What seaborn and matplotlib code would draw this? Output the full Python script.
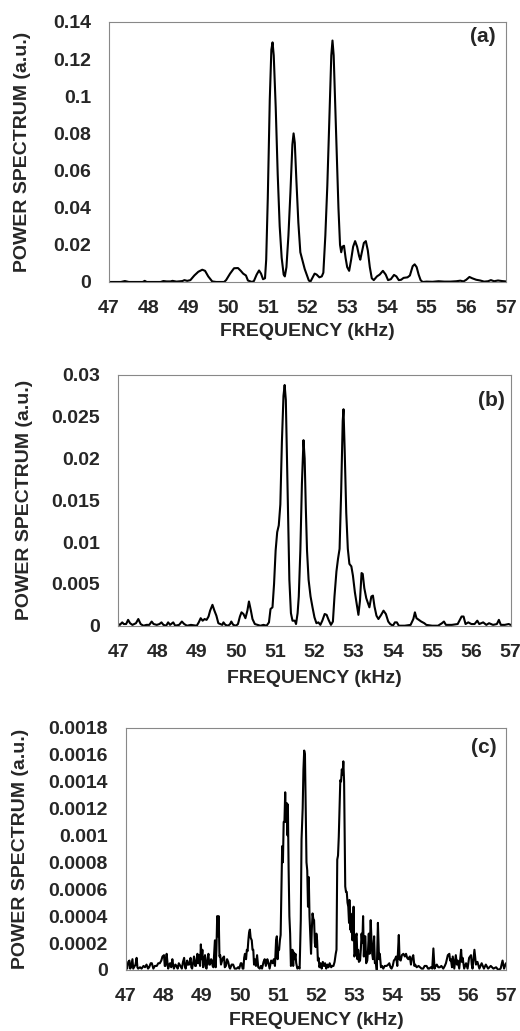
import pandas as pd
import matplotlib
matplotlib.use("Agg")
import matplotlib.pyplot as plt
import matplotlib.transforms as mtransforms
import seaborn as sns
from matplotlib.ticker import FuncFormatter

# Panel (a) spectrum
freq_a = [47.0, 47.3, 47.4, 47.5, 47.85, 47.9, 47.95, 48.3, 48.37, 48.45, 48.55, 48.6, 48.7, 48.85, 48.9,
          48.97, 49.05, 49.15, 49.25, 49.35, 49.42, 49.5, 49.6, 49.7, 49.9, 49.95, 50.05, 50.15, 50.25,
          50.32, 50.38, 50.45, 50.5, 50.6, 50.65, 50.72, 50.78, 50.83, 50.88, 50.93, 50.96, 51.0, 51.05,
          51.09, 51.12, 51.15, 51.2, 51.25, 51.3, 51.35, 51.4, 51.43, 51.47, 51.52, 51.57, 51.62, 51.65,
          51.68, 51.72, 51.77, 51.82, 51.88, 51.93, 51.98, 52.03, 52.07, 52.12, 52.18, 52.23, 52.3, 52.36,
          52.4, 52.45, 52.5, 52.55, 52.6, 52.63, 52.66, 52.7, 52.74, 52.78, 52.82, 52.85, 52.88, 52.92,
          52.96, 53.0, 53.05, 53.1, 53.15, 53.2, 53.25, 53.3, 53.33, 53.37, 53.42, 53.47, 53.52, 53.57,
          53.62, 53.67, 53.75, 53.82, 53.9, 53.97, 54.03, 54.1, 54.18, 54.24, 54.3, 54.36, 54.42, 54.52,
          54.58, 54.65, 54.7, 54.75, 54.8, 54.85, 54.9, 55.0, 55.15, 55.3, 55.45, 55.6, 55.75, 55.85,
          55.93, 56.0, 56.08, 56.15, 56.25, 56.35, 56.45, 56.55, 56.62, 56.7, 56.8, 56.9, 57.0]
power_a = [0, 0, 0.0005, 0, 0, 0.0006, 0, 0, 0.0005, 0.0003, 0.0003, 0.0006, 0.0002, 0.0005, 0.001,
           0.0006, 0.001, 0.0035, 0.0055, 0.0066, 0.006, 0.003, 0.0003, 0, 0, 0.001, 0.0045, 0.0074, 0.0075,
           0.006, 0.0045, 0.0035, 0.0008, 0, 0.0005, 0.004, 0.0062, 0.0045, 0.0015, 0.002, 0.012, 0.045, 0.098,
           0.125, 0.129, 0.122, 0.094, 0.058, 0.03, 0.013, 0.004, 0.003, 0.008, 0.025, 0.048, 0.074, 0.080,
           0.075, 0.055, 0.032, 0.016, 0.011, 0.007, 0.004, 0.001, 0, 0.002, 0.0045, 0.004, 0.0025, 0.003,
           0.005, 0.025, 0.052, 0.088, 0.122, 0.130, 0.122, 0.095, 0.068, 0.04, 0.02, 0.016, 0.019, 0.0195,
           0.013, 0.008, 0.006, 0.012, 0.019, 0.022, 0.019, 0.014, 0.012, 0.016, 0.021, 0.022, 0.017, 0.008,
           0.002, 0.001, 0.003, 0.004, 0.006, 0.004, 0.001, 0.0015, 0.0038, 0.003, 0.001, 0.0012, 0.0022, 0.0025,
           0.0035, 0.0085, 0.0095, 0.008, 0.004, 0.001, 0, 0.0002, 0.0001, 0.0004, 0.0002, 0.0002, 0.0004, 0.0007,
           0.0003, 0.0012, 0.0027, 0.002, 0.0012, 0.0008, 0.0002, 0.0004, 0.001, 0.0004, 0.0008, 0.0005, 0.0003]

# Panel (b)
freq_b = [47.0, 47.04, 47.1, 47.14, 47.2, 47.25, 47.3, 47.36, 47.45, 47.51, 47.57, 47.64, 47.72, 47.79,
          47.85, 47.9, 47.98, 48.05, 48.1, 48.15, 48.22, 48.27, 48.32, 48.4, 48.45, 48.55, 48.62, 48.68,
          48.75, 48.85, 49.0, 49.05, 49.1, 49.15, 49.2, 49.25, 49.3, 49.34, 49.4, 49.45, 49.5, 49.55, 49.6,
          49.65, 49.68, 49.73, 49.8, 49.85, 49.88, 49.93, 50.0, 50.05, 50.1, 50.14, 50.19, 50.24, 50.29,
          50.33, 50.38, 50.42, 50.48, 50.55, 50.62, 50.7, 50.78, 50.84, 50.88, 50.93, 50.97, 51.01, 51.05,
          51.09, 51.13, 51.17, 51.21, 51.24, 51.27, 51.3, 51.33, 51.36, 51.4, 51.44, 51.5, 51.53, 51.57,
          51.6, 51.64, 51.68, 51.72, 51.75, 51.78, 51.81, 51.85, 51.9, 51.95, 52.0, 52.05, 52.1, 52.15,
          52.2, 52.26, 52.31, 52.36, 52.42, 52.47, 52.51, 52.56, 52.6, 52.64, 52.68, 52.72, 52.74, 52.77,
          52.81, 52.85, 52.89, 52.94, 52.98, 53.03, 53.08, 53.12, 53.16, 53.2, 53.23, 53.27, 53.32, 53.37,
          53.4, 53.45, 53.49, 53.53, 53.58, 53.63, 53.7, 53.76, 53.82, 53.88, 53.93, 54.0, 54.05, 54.1,
          54.15, 54.3, 54.45, 54.52, 54.56, 54.6, 54.66, 54.72, 54.8, 54.85, 55.0, 55.15, 55.25, 55.3,
          55.35, 55.5, 55.65, 55.75, 55.8, 55.85, 55.92, 56.0, 56.08, 56.15, 56.2, 56.3, 56.38, 56.45,
          56.55, 56.65, 56.7, 56.75, 56.85, 56.95, 57.0]
power_b = [0.0002, 0.0001, 0.0004, 0.0002, 0.0002, 0.0007, 0.0003, 0.0001, 0.0003, 0.0008, 0.0002, 0.0,
           0.0001, 0.0001, 0.0005, 0.0002, 0.0001, 0.0002, 0.0004, 0.0001, 0.0, 0.0004, 0.0001, 0.0004, 0.0,
           0.0001, 0.0005, 0.0002, 0.0, 0.0001, 0.0, 0.0004, 0.0009, 0.0006, 0.0008, 0.0007, 0.0011, 0.0018,
           0.0025, 0.0018, 0.0012, 0.0003, 0.0002, 0.0001, 0.0004, 0.0001, 0.0, 0.0002, 0.0005, 0.0001, 0.0,
           0.0002, 0.0011, 0.0016, 0.0014, 0.0009, 0.0018, 0.0029, 0.0018, 0.0008, 0.0002, 0.0001, 0.0,
           0.0001, 0.0, 0.0004, 0.002, 0.0022, 0.005, 0.009, 0.0112, 0.012, 0.0145, 0.022, 0.0275, 0.0288,
           0.027, 0.02, 0.0125, 0.0055, 0.0015, 0.0006, 0.0006, 0.0002, 0.0015, 0.0035, 0.009, 0.017, 0.0222,
           0.020, 0.014, 0.009, 0.0055, 0.0035, 0.0022, 0.001, 0.0003, 0.0004, 0.0001, 0.0006, 0.0014, 0.0013,
           0.0007, 0.0001, 0.0005, 0.0035, 0.0065, 0.008, 0.0092, 0.016, 0.0245, 0.0259, 0.021, 0.0135,
           0.0092, 0.0074, 0.0071, 0.006, 0.004, 0.0025, 0.0013, 0.003, 0.0063, 0.0062, 0.0045, 0.0033,
           0.0026, 0.0022, 0.0035, 0.0036, 0.0023, 0.0012, 0.0008, 0.0013, 0.0018, 0.0014, 0.0005, 0.0002,
           0.0, 0.0004, 0.0004, 0.0, 0.0, 0.0001, 0.0008, 0.0016, 0.0009, 0.0007, 0.0005, 0.0003, 0.0001,
           0.0, 0.0, 0.0003, 0.0005, 0.0001, 0.0001, 0.0002, 0.0011, 0.0011, 0.0002, 0.0004, 0.0002, 0.0002,
           0.0006, 0.0002, 0.0004, 0.0001, 0.0003, 0.0001, 0.0002, 0.0007, 0.0001, 0.0001, 0.0002, 0.0001]

# Panel (c), noisy spectrum
freq_c = [47.0, 47.03, 47.06, 47.09, 47.11, 47.13, 47.17, 47.19, 47.21, 47.25, 47.28, 47.3, 47.32, 47.37,
          47.41, 47.46, 47.5, 47.54, 47.58, 47.61, 47.65, 47.68, 47.72, 47.76, 47.81, 47.85, 47.89, 47.93,
          47.96, 48.0, 48.02, 48.04, 48.07, 48.09, 48.11, 48.14, 48.16, 48.19, 48.22, 48.24, 48.26, 48.3,
          48.33, 48.36, 48.39, 48.43, 48.47, 48.5, 48.53, 48.55, 48.57, 48.61, 48.63, 48.66, 48.7, 48.72,
          48.74, 48.77, 48.79, 48.82, 48.84, 48.86, 48.88, 48.9, 48.92, 48.95, 48.97, 48.99, 49.01, 49.03,
          49.06, 49.08, 49.1, 49.12, 49.15, 49.17, 49.19, 49.21, 49.24, 49.26, 49.28, 49.3, 49.32, 49.34,
          49.36, 49.38, 49.4, 49.42, 49.44, 49.46, 49.48, 49.5, 49.53, 49.55, 49.58, 49.6, 49.63, 49.66,
          49.69, 49.72, 49.74, 49.78, 49.82, 49.86, 49.91, 49.95, 49.98, 50.02, 50.04, 50.07, 50.09, 50.11,
          50.13, 50.16, 50.18, 50.2, 50.22, 50.24, 50.26, 50.28, 50.31, 50.33, 50.35, 50.37, 50.39, 50.42,
          50.45, 50.48, 50.52, 50.55, 50.58, 50.62, 50.65, 50.68, 50.72, 50.75, 50.78, 50.82, 50.86, 50.89,
          50.92, 50.95, 50.97, 50.99, 51.01, 51.03, 51.05, 51.07, 51.09, 51.11, 51.13, 51.15, 51.17, 51.19,
          51.21, 51.23, 51.25, 51.26, 51.28, 51.3, 51.32, 51.34, 51.36, 51.38, 51.4, 51.42, 51.44, 51.46,
          51.48, 51.51, 51.54, 51.57, 51.6, 51.62, 51.65, 51.67, 51.69, 51.71, 51.73, 51.75, 51.77, 51.79,
          51.81, 51.83, 51.85, 51.87, 51.89, 51.91, 51.93, 51.95, 51.97, 51.99, 52.01, 52.03, 52.05, 52.07,
          52.09, 52.12, 52.15, 52.18, 52.21, 52.24, 52.27, 52.3, 52.33, 52.36, 52.4, 52.43, 52.46, 52.49,
          52.52, 52.54, 52.56, 52.58, 52.6, 52.62, 52.64, 52.66, 52.68, 52.7, 52.72, 52.74, 52.76, 52.77,
          52.79, 52.81, 52.83, 52.85, 52.87, 52.88, 52.9, 52.91, 52.93, 52.94, 52.96, 52.97, 52.99, 53.01,
          53.03, 53.05, 53.07, 53.09, 53.11, 53.13, 53.16, 53.18, 53.2, 53.22, 53.24, 53.26, 53.28, 53.3,
          53.32, 53.35, 53.37, 53.39, 53.41, 53.44, 53.46, 53.48, 53.5, 53.53, 53.55, 53.58, 53.6, 53.63,
          53.66, 53.68, 53.71, 53.74, 53.77, 53.81, 53.86, 53.9, 53.93, 53.96, 53.99, 54.02, 54.05, 54.08,
          54.11, 54.14, 54.18, 54.2, 54.23, 54.26, 54.3, 54.34, 54.37, 54.4, 54.43, 54.47, 54.5, 54.52,
          54.56, 54.59, 54.61, 54.65, 54.7, 54.74, 54.78, 54.82, 54.86, 54.91, 54.95, 54.98, 55.02, 55.06,
          55.09, 55.12, 55.15, 55.18, 55.22, 55.26, 55.3, 55.35, 55.39, 55.42, 55.47, 55.51, 55.53, 55.55,
          55.58, 55.6, 55.64, 55.68, 55.71, 55.73, 55.77, 55.82, 55.84, 55.86, 55.9, 55.95, 55.99, 56.03,
          56.08, 56.1, 56.12, 56.17, 56.21, 56.25, 56.3, 56.36, 56.42, 56.47, 56.53, 56.6, 56.67, 56.74,
          56.8, 56.86, 56.91, 56.95, 57.0]
power_c = [0.00005, 0.00001, 0.00006, 0.00007, 0.00001, 0.00002, 0.00008, 0.00001, 0.00002, 0.00004,
           0.00009, 0.00002, 0.00001, 0.00002, 0.00001, 0.00003, 0.00002, 0.00004, 0.00001, 0.00002,
           0.00005, 0.00005, 0.00001, 0.00003, 0.00003, 0.00005, 0.00005, 0.00007, 0.0001, 0.00011,
           0.00003, 0.00003, 0.00012, 0.00006, 0.00001, 0.00004, 0.00005, 0.00002, 0.00008, 0.00004,
           0.00001, 0.00004, 0.00003, 0.00001, 0.00005, 0.00003, 0.00001, 0.00006, 0.00009, 0.00003,
           0.00001, 0.00007, 0.00004, 0.00004, 0.00009, 0.00002, 0.00001, 0.00006, 0.0001, 0.00003,
           0.00003, 0.00008, 0.00012, 0.00005, 0.00011, 0.00003, 0.00019, 0.00008, 0.00015, 0.00002,
           0.00008, 0.00011, 0.00002, 0.00001, 0.00009, 0.00012, 0.00004, 0.00004, 0.00008, 0.00007,
           0.00003, 0.00002, 0.00012, 0.00022, 0.00002, 0.00015, 0.0004, 0.00025, 0.0004, 0.0001,
           0.00011, 0.00004, 0.00007, 0.00009, 0.0001, 0.00002, 0.00003, 0.00008, 0.00006, 0.00002,
           0.00001, 0.00004, 0.00004, 0.00001, 0.00001, 0.00002, 0.00001, 0.00005, 0.00005, 0.00001,
           0.00001, 0.00009, 0.00012, 0.00008, 0.00015, 0.00014, 0.00022, 0.00028, 0.0003, 0.00024,
           0.00022, 0.00015, 0.00015, 0.00004, 0.00008, 0.00003, 0.00011, 0.00002, 0.00001, 0.00003,
           0.00001, 0.00006, 0.00008, 0.00003, 0.00008, 0.00005, 0.00001, 0.00007, 0.00005, 0.00008,
           0.00003, 0.00022, 0.00025, 0.00008, 0.00016, 0.00015, 0.00022, 0.00026, 0.0006, 0.00092,
           0.0008, 0.0011, 0.0011, 0.00132, 0.0011, 0.00124, 0.001, 0.00123, 0.00075, 0.0004, 0.00027,
           0.00003, 0.00006, 0.00015, 0.00003, 0.00013, 0.00008, 0.00012, 0.00005, 0.00001, 0.00002,
           0.00001, 0.00037, 0.00097, 0.0012, 0.00149, 0.00163, 0.0016, 0.0012, 0.0008, 0.00074, 0.00047,
           0.00069, 0.0004, 0.00025, 0.00012, 0.0003, 0.00042, 0.00038, 0.00037, 0.0002, 0.00017, 0.00027,
           0.00022, 0.00007, 0.00009, 0.00002, 0.00005, 0.00001, 0.00006, 0.00003, 0.00005, 0.00001,
           0.00004, 0.00002, 0.00005, 0.00002, 0.00003, 0.00003, 0.00006, 0.00012, 0.00015, 0.00082,
           0.00085, 0.00099, 0.0012, 0.00141, 0.0014, 0.00149, 0.00145, 0.00155, 0.0014, 0.0009, 0.00062,
           0.00058, 0.00058, 0.0005, 0.00047, 0.00035, 0.00052, 0.0003, 0.00042, 0.00028, 0.00037, 0.00022,
           0.00025, 0.00047, 0.0001, 0.00012, 0.00025, 0.00027, 0.00008, 0.00015, 0.00006, 0.00007, 0.00015,
           0.00027, 0.0002, 0.0004, 0.0001, 0.00025, 0.00025, 0.00005, 0.00007, 0.00015, 0.00027, 0.00012,
           0.00037, 0.00023, 0.00012, 0.00008, 0.00025, 0.00005, 0.00005, 0.0, 0.00035, 0.00008, 0.00012,
           0.00002, 0.00003, 0.00001, 0.00003, 0.00003, 0.00004, 0.00005, 0.00002, 0.00001, 0.00003,
           0.00007, 0.00008, 0.0001, 0.00003, 0.00026, 0.00008, 0.00007, 0.00011, 0.00012, 0.0001, 0.00012,
           0.00009, 0.00008, 0.0001, 0.00004, 0.00008, 0.00011, 0.00003, 0.00004, 0.00002, 0.00003,
           0.00002, 0.00001, 0.00001, 0.00003, 0.00003, 0.00001, 0.00001, 0.00002, 0.00001, 0.00016,
           0.00001, 0.00003, 0.00004, 0.00002, 0.00002, 0.00003, 0.00001, 0.00003, 0.00005, 0.00011,
           0.00012, 0.00007, 0.00008, 0.00002, 0.0001, 0.00001, 0.00011, 0.00004, 0.00007, 0.00001,
           0.00015, 0.00006, 0.00009, 0.00001, 0.00005, 0.00001, 0.00009, 0.00011, 0.00004, 0.00001,
           0.00015, 0.00004, 0.00006, 0.00001, 0.00005, 0.00001, 0.00004, 0.00001, 0.00003, 0.00001,
           0.00002, 0.0, 0.00001, 0.00007, 0.00001, 0.00005]

x_ticks = list(range(47, 58))
y_ticks_a = [0, 0.02, 0.04, 0.06, 0.08, 0.1, 0.12, 0.14]
y_ticks_b = [0, 0.005, 0.01, 0.015, 0.02, 0.025, 0.03]
y_ticks_c = [0, 0.0002, 0.0004, 0.0006, 0.0008, 0.001, 0.0012, 0.0014, 0.0016, 0.0018]
panel_tags = ["(a)", "(b)", "(c)"]

sns.set_style("white")
plt.rcParams['font.family'] = ['Liberation Sans', 'DejaVu Sans']
plt.rcParams['font.weight'] = 'bold'

fig = plt.figure(figsize=(5.2, 10.31), dpi=100)

boxes = [
    [0.2096, 0.7265, 0.7634, 0.2522],
    [0.2275, 0.3931, 0.7545, 0.2432],
    [0.2423, 0.0592, 0.7307, 0.2350],
]
panels = [(freq_a, power_a, y_ticks_a), (freq_b, power_b, y_ticks_b), (freq_c, power_c, y_ticks_c)]
xpads = [4, 7, 5]
tag_pos = [(0.975, 0.946), (0.985, 0.90), (0.976, 0.918)]
ylab_x = [23, 25, 21]

for box, (f, p, yt), tag, xpad, tp, yx in zip(boxes, panels, panel_tags, xpads, tag_pos, ylab_x):
    ax = fig.add_axes(box)
    df = pd.DataFrame({'freq': f, 'power': p})
    sns.lineplot(data=df, x='freq', y='power', ax=ax, color='black', linewidth=1.5,
                 estimator=None, sort=False)
    ax.set_xlim(47, 57)
    ax.set_ylim(yt[0], yt[-1])
    ax.set_xticks(x_ticks)
    ax.set_yticks(yt)
    ax.yaxis.set_major_formatter(FuncFormatter(lambda v, pos: '0' if v == 0 else ('%g' % v)))
    ax.tick_params(axis='both', which='major', direction='out', length=4, width=0.8,
                   color='#777777', labelsize=14, pad=9)
    for lab in ax.get_xticklabels() + ax.get_yticklabels():
        lab.set_fontweight('bold')
    for sp in ax.spines.values():
        sp.set_color('#888888')
        sp.set_linewidth(0.8)
    ax.set_xlabel('FREQUENCY (kHz)', fontsize=14, fontweight='bold', labelpad=xpad)
    ax.set_ylabel('POWER SPECTRUM (a.u.)', fontsize=14, fontweight='bold')
    # place y label at the same x pixel as in the reference
    trans = mtransforms.blended_transform_factory(fig.transFigure, ax.transAxes)
    ax.yaxis.set_label_coords(yx / 520, 0.5, transform=trans)
    ax.yaxis.label.set_va('center')
    ax.text(tp[0], tp[1], tag, transform=ax.transAxes, ha='right', va='center',
            fontsize=15, fontweight='bold')

fig.savefig('out.png', dpi=100)
